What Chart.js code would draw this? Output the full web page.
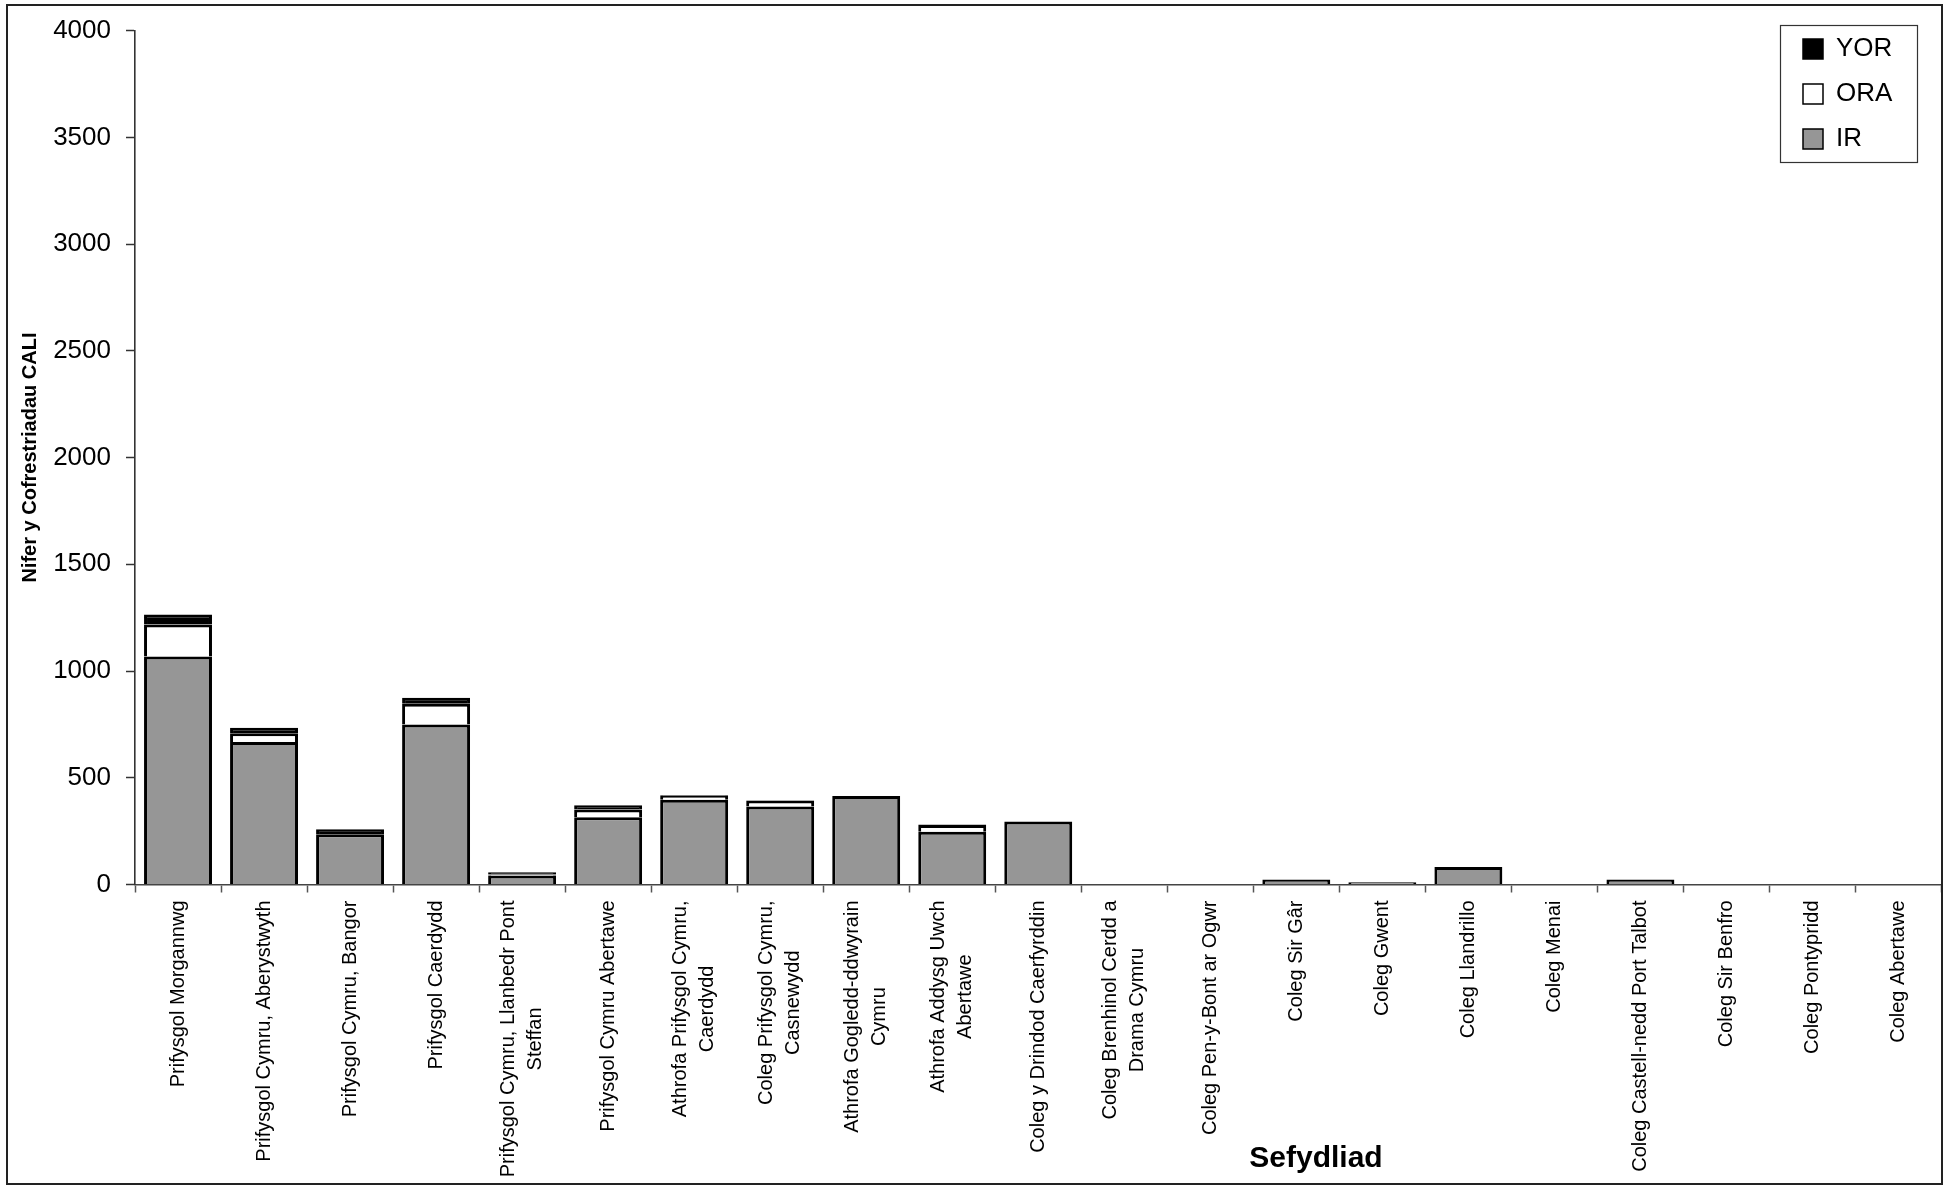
<!DOCTYPE html>
<html>
<head>
<meta charset="utf-8">
<script src="https://cdn.jsdelivr.net/npm/chart.js@4"></script>
<style>
html, body { margin: 0; padding: 0; background: #fff; }
#wrap { position: relative; width: 1957px; height: 1192px; }
#c { position: absolute; left: 0; top: 0; }
#frame { position: absolute; left: 6px; top: 4px; width: 1937px; height: 1181px; box-sizing: border-box; border: 2px solid #222; pointer-events: none; }
</style>
</head>
<body>
<div id="wrap">
  <canvas id="c" width="1957" height="1192"></canvas>
  <div id="frame"></div>
</div>
<script>
// ---- data ----
const categories = [
  "Prifysgol Morgannwg",
  "Prifysgol Cymru, Aberystwyth",
  "Prifysgol Cymru, Bangor",
  "Prifysgol Caerdydd",
  ["Prifysgol Cymru, Llanbedr Pont", "Steffan"],
  "Prifysgol Cymru Abertawe",
  ["Athrofa Prifysgol Cymru,", "Caerdydd"],
  ["Coleg Prifysgol Cymru,", "Casnewydd"],
  ["Athrofa Gogledd-ddwyrain", "Cymru"],
  ["Athrofa Addysg Uwch", "Abertawe"],
  "Coleg y Drindod Caerfyrddin",
  ["Coleg Brenhinol Cerdd a", "Drama Cymru"],
  "Coleg Pen-y-Bont ar Ogwr",
  "Coleg Sir Gâr",
  "Coleg Gwent",
  "Coleg Llandrillo",
  "Coleg Menai",
  "Coleg Castell-nedd Port Talbot",
  "Coleg Sir Benfro",
  "Coleg Pontypridd",
  "Coleg Abertawe"
];
const irValues  = [1068, 667, 235, 749, 42, 315, 397, 365, 415, 247, 295, 0, 0, 23, 10, 82, 0, 23, 0, 0, 0];
const oraValues = [150, 42, 0, 98, 5, 36, 18, 28, 0, 32, 0, 0, 0, 0, 0, 0, 0, 0, 0, 0, 0];
const yorValues = [47, 25, 24, 28, 10, 20, 3, 2, 0, 2, 0, 0, 0, 0, 0, 0, 0, 0, 0, 0, 0];
const seriesNames = ["IR", "ORA", "YOR"];
const yMin = 0, yMax = 4000, yStep = 500;
const yTitle = "Nifer y Cofrestriadau CALI";
const xTitle = "Sefydliad";

const FONT = "'Liberation Sans', Arial, sans-serif";

const helperPlugin = {
  id: 'helper',
  beforeDraw(chart) {
    // place legend box in the top-right corner
    const lg = chart.legend;
    if (lg) {
      lg.left = 1784; lg.top = 17; lg.right = 1917; lg.bottom = 400;
      lg.width = lg.right - lg.left; lg.height = lg.bottom - lg.top;
    }
    // centre multi-line category labels
    const sx = chart.scales.x;
    const items = sx.getLabelItems(chart.chartArea);
    const ctx = chart.ctx;
    items.forEach(it => {
      if (it._fixed) return;
      it._fixed = true;
      if (Array.isArray(it.label) && it.label.length > 1) {
        ctx.save();
        ctx.font = it.font.string;
        const w = Math.max(...it.label.map(s => ctx.measureText(s).width));
        ctx.restore();
        it.options.textAlign = 'center';
        it.options.translation[1] += w / 2;
        it.options.translation[0] -= it.font.lineHeight * (it.label.length - 1) / 2;
      }
    });
  },
  afterDraw(chart) {
    const ctx = chart.ctx;
    ctx.save();
    ctx.strokeStyle = '#333';
    ctx.lineWidth = 1.2;
    ctx.strokeRect(1780.5, 25.5, 137, 137);
    ctx.fillStyle = '#000';
    ctx.font = "bold 30px " + FONT;
    ctx.textAlign = 'center';
    ctx.textBaseline = 'alphabetic';
    ctx.fillText(xTitle, 1316, 1167);
    ctx.restore();
  }
};

new Chart(document.getElementById('c'), {
  type: 'bar',
  data: {
    labels: categories,
    datasets: [
      { label: seriesNames[0], data: irValues,  backgroundColor: '#969696', borderColor: '#000', borderWidth: 3, borderSkipped: 'start' },
      { label: seriesNames[1], data: oraValues, backgroundColor: '#ffffff', borderColor: '#000', borderWidth: 3, borderSkipped: 'start' },
      { label: seriesNames[2], data: yorValues, backgroundColor: '#000000', borderColor: '#000', borderWidth: 3, borderSkipped: 'start' }
    ]
  },
  options: {
    responsive: false,
    animation: false,
    devicePixelRatio: 1,
    datasets: { bar: { barPercentage: 0.79, categoryPercentage: 1.0 } },
    layout: { padding: { left: 0, right: 15.5, top: 29, bottom: 0 } },
    plugins: {
      tooltip: { enabled: false },
      legend: {
        position: 'chartArea',
        align: 'start',
        reverse: true,
        labels: {
          color: '#000',
          font: { family: FONT, size: 26 },
          boxWidth: 20,
          boxHeight: 20,
          padding: 19,
          generateLabels(chart) {
            const items = Chart.defaults.plugins.legend.labels.generateLabels(chart);
            items.forEach(i => { i.lineWidth = 1.5; });
            return items;
          }
        }
      }
    },
    scales: {
      x: {
        stacked: true,
        ticks: {
          autoSkip: false, maxRotation: 90, minRotation: 90,
          color: '#000',
          font: { family: FONT, size: 20, lineHeight: 1.35 },
          padding: 8
        },
        grid: { drawOnChartArea: false, drawTicks: true, tickLength: 8, tickColor: '#555', tickWidth: 1.5, offset: true },
        border: { display: true, color: '#444', width: 1.6 },
        afterFit(s) { s.height = 1192 - 884.5; }
      },
      y: {
        stacked: true,
        min: yMin, max: yMax,
        ticks: {
          stepSize: yStep, color: '#000', font: { family: FONT, size: 26 }, padding: 15,
          callback: v => String(v)
        },
        grid: { drawOnChartArea: false, drawTicks: true, tickLength: 9, tickColor: '#333', tickWidth: 1.5 },
        border: { display: true, color: '#333', width: 1.6 },
        title: {
          display: true, text: yTitle, color: '#000',
          font: { family: FONT, size: 20, weight: 'bold' },
          padding: { top: 18, bottom: 0 }
        },
        afterFit(s) { s.width = 135; }
      }
    }
  },
  plugins: [helperPlugin]
});
</script>
</body>
</html>
